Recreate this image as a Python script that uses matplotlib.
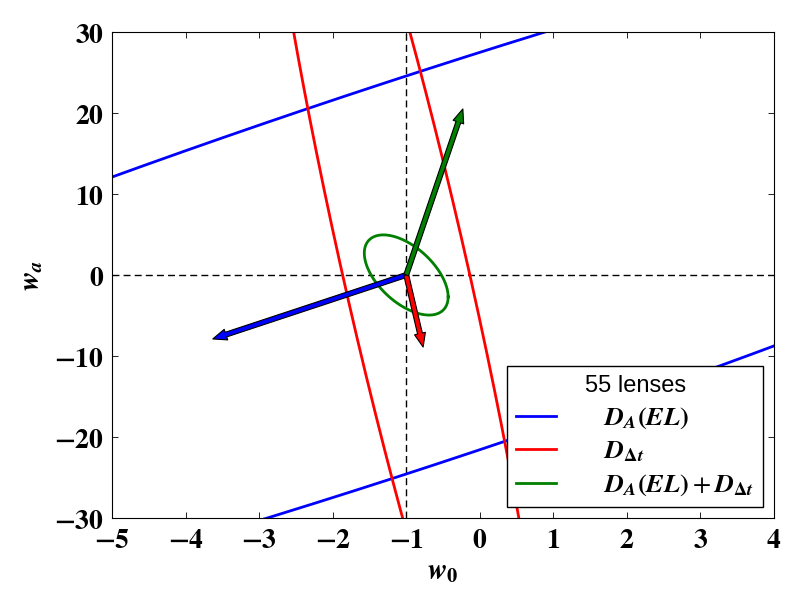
import numpy as np
import matplotlib
matplotlib.use("Agg")
import matplotlib.pyplot as plt

plt.rcParams['mathtext.fontset'] = 'stix'

# ellipse shapes (center at w0=-1, wa=0)
center = (-1.0, 0.0)
# D_A(EL): very long thin ellipse, looks like two lines
blue_halfwidth_x = 17.4
blue_slope = 2.955
blue_halfheight = 24.57
# D_dt: long near-vertical ellipse
red_halfheight_y = 73.6
red_shear = -0.0247
red_halfwidth = 0.865
# combined
green_dx = 0.57
green_dy = 4.95
green_phase = 2.147

# arrow tips
arrow_tips = {'blue': (-3.63, -7.9), 'red': (-0.77, -8.9), 'green': (-0.23, 20.5)}

xticks = [-5, -4, -3, -2, -1, 0, 1, 2, 3, 4]
yticks = [-30, -20, -10, 0, 10, 20, 30]

t = np.linspace(0, 2 * np.pi, 800)
cx, cy = center

bx = cx + blue_halfwidth_x * np.cos(t)
by = cy + blue_slope * blue_halfwidth_x * np.cos(t) + blue_halfheight * np.sin(t)

ry = cy + red_halfheight_y * np.sin(t)
rx = cx + red_shear * red_halfheight_y * np.sin(t) + red_halfwidth * np.cos(t)

gx = cx + green_dx * np.cos(t)
gy = cy + green_dy * np.cos(t + green_phase)

fig = plt.figure(figsize=(8, 6), dpi=100)
ax = fig.add_axes([0.14, 0.1367, 0.8275, 0.81])

lab_a = r'$\mathbfit{D}_{\mathbfit{A}}\mathbf{(}\mathbfit{EL}\mathbf{)}$'
lab_t = r'$\mathbfit{D}_{\mathbf{\Delta}\mathbfit{t}}$'
lab_c = r'$\mathbfit{D}_{\mathbfit{A}}\mathbf{(}\mathbfit{EL}\mathbf{)} + \mathbfit{D}_{\mathbf{\Delta}\mathbfit{t}}$'

ax.plot(bx, by, color='blue', lw=2, label=lab_a)
ax.plot(rx, ry, color='red', lw=2, label=lab_t)
ax.plot(gx, gy, color='green', lw=2, label=lab_c)

ax.axhline(0, color='k', lw=1, ls='--', dashes=(5, 3), zorder=1)
ax.axvline(-1, color='k', lw=1, ls='--', dashes=(5, 3), zorder=1)

for c, tip in arrow_tips.items():
    ax.annotate('', xy=tip, xytext=center,
                arrowprops=dict(width=3.5, headwidth=8, headlength=10, shrink=0,
                                facecolor=c, edgecolor='k', lw=0.8),
                zorder=5)

ax.set_xlim(-5, 4)
ax.set_ylim(-30, 30)
ax.set_xticks(xticks)
ax.set_yticks(yticks)
ax.set_xticklabels([r'$\mathbf{%d}$' % v for v in xticks], fontsize=20)
ax.set_yticklabels([r'$\mathbf{%d}$' % v for v in yticks], fontsize=20)
ax.tick_params(direction='in', top=True, right=True, length=4, width=0.6, pad=6)

ax.set_xlabel(r'$\mathbfit{w}_{\mathbf{0}}$', fontsize=21, labelpad=2)
ax.set_ylabel(r'$\mathbfit{w}_{\mathbfit{a}}$', fontsize=21, labelpad=6)

leg = ax.legend(loc='lower right', title='55 lenses', fontsize=19, fancybox=False,
                framealpha=1, edgecolor='k', borderaxespad=0.4, handlelength=1.5,
                handletextpad=1.8, borderpad=0.35, labelspacing=0.28)
leg.get_title().set_fontsize(17)
leg.get_title().set_family('Liberation Sans')
leg.get_frame().set_linewidth(1.0)

fig.savefig('out.png', dpi=100)
